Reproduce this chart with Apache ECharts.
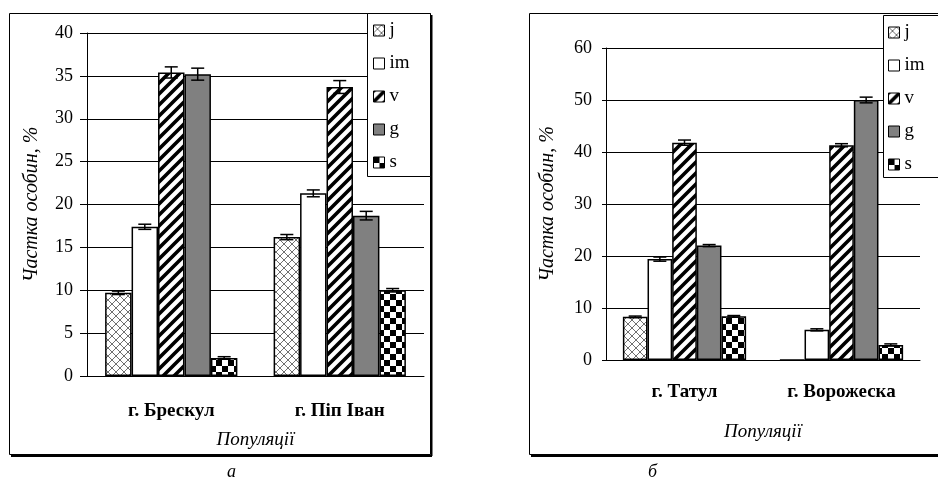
<!DOCTYPE html>
<html><head><meta charset="utf-8">
<script src="https://cdn.jsdelivr.net/npm/echarts@6/dist/echarts.min.js"></script>
<style>html,body{margin:0;padding:0;background:#fff}#c{width:938px;height:489px}</style>
</head><body><div id="c"></div>
<script>
// ---- data ----
const seriesNames = ['j', 'im', 'v', 'g', 's'];
const catsA = ['г. Брескул', 'г. Піп Іван'];
const catsB = ['г. Татул', 'г. Ворожеска'];
const yTicksA = [0, 40, 5];
const yTicksB = [0, 60, 10];

const jA = [9.7, 16.2];   const jAErr = [0.2, 0.3];
const imA = [17.4, 21.3]; const imAErr = [0.3, 0.4];
const vA = [35.4, 33.7];  const vAErr = [0.65, 0.75];
const gA = [35.2, 18.7];  const gAErr = [0.7, 0.5];
const sA = [2.1, 10.0];   const sAErr = [0.15, 0.2];

const jB = [8.3, 0];      const jBErr = [0.15, 0];
const imB = [19.4, 5.8];  const imBErr = [0.4, 0.2];
const vB = [41.8, 41.3];  const vBErr = [0.5, 0.3];
const gB = [22.0, 50.0];  const gBErr = [0.2, 0.55];
const sB = [8.4, 2.9];    const sBErr = [0.15, 0.2];

const valuesA = [jA, imA, vA, gA, sA];
const errorsA = [jAErr, imAErr, vAErr, gAErr, sAErr];
const valuesB = [jB, imB, vB, gB, sB];
const errorsB = [jBErr, imBErr, vBErr, gBErr, sBErr];

// ---- patterns ----
function tile(size, draw) {
  const c = document.createElement('canvas');
  c.width = size; c.height = size;
  const ctx = c.getContext('2d');
  ctx.fillStyle = '#fff'; ctx.fillRect(0, 0, size, size);
  draw(ctx, size);
  return { image: c, repeat: 'repeat' };
}
const crossPat = tile(8, (ctx, s) => {
  ctx.strokeStyle = '#707070'; ctx.lineWidth = 1;
  ctx.beginPath(); ctx.moveTo(0, 0); ctx.lineTo(s, s); ctx.moveTo(0, s); ctx.lineTo(s, 0); ctx.stroke();
});
const stripePat = tile(11, (ctx, s) => {
  ctx.strokeStyle = '#000'; ctx.lineWidth = 3.6; ctx.lineCap = 'square';
  ctx.beginPath();
  ctx.moveTo(-2, s + 2); ctx.lineTo(s + 2, -2);
  ctx.moveTo(-3, 3); ctx.lineTo(3, -3);
  ctx.moveTo(s - 3, s + 3); ctx.lineTo(s + 3, s - 3);
  ctx.stroke();
});
const checkPat = tile(12, (ctx, s) => {
  ctx.fillStyle = '#000'; ctx.fillRect(0, 0, 6, 6); ctx.fillRect(6, 6, 6, 6);
});
const fills = [crossPat, '#fff', stripePat, '#808080', checkPat];

const FF = '"Liberation Serif", "Times New Roman", serif';
const GAP = 0.215;

function errRender(i) {
  return function (params, api) {
    const k = api.value(0), v = api.value(1), e = api.value(2);
    if (!e) return null;
    const band = api.size([1, 0])[0];
    const bw = band * (1 - GAP) / 5;
    const c = api.coord([k, v]);
    const x = c[0] + (i - 2) * bw;
    const y1 = api.coord([k, v + e])[1], y2 = api.coord([k, v - e])[1];
    const hw = 6.5;
    const st = { stroke: '#000', lineWidth: 1.5 };
    return { type: 'group', children: [
      { type: 'line', shape: { x1: x, y1: y1, x2: x, y2: y2 }, style: st },
      { type: 'line', shape: { x1: x - hw, y1: y1, x2: x + hw, y2: y1 }, style: st },
      { type: 'line', shape: { x1: x - hw, y1: y2, x2: x + hw, y2: y2 }, style: st }
    ]};
  };
}

const series = [];
[[valuesA, errorsA, 0], [valuesB, errorsB, 1]].forEach(([vals, errs, gi]) => {
  seriesNames.forEach((n, i) => {
    series.push({
      type: 'bar', name: n, xAxisIndex: gi, yAxisIndex: gi,
      data: vals[i], barGap: '0%', barCategoryGap: (GAP * 100) + '%',
      itemStyle: { color: fills[i], borderColor: '#000', borderWidth: 1.5 },
      emphasis: { disabled: true }, silent: true
    });
  });
  seriesNames.forEach((n, i) => {
    series.push({
      type: 'custom', name: n + '_err', xAxisIndex: gi, yAxisIndex: gi, z: 3, silent: true,
      encode: { x: 0, y: 1 },
      data: vals[i].map((v, k) => [k, v, errs[i][k]]),
      renderItem: errRender(i)
    });
  });
});

function xAxis(gi, cats, margin, nameGap) {
  return {
    type: 'category', gridIndex: gi, data: cats,
    axisLine: { lineStyle: { color: '#000', width: 1 } },
    axisTick: { length: 6, lineStyle: { color: '#000' } },
    axisLabel: { margin: margin, fontFamily: FF, fontWeight: 'bold', fontSize: 19, color: '#000' },
    name: 'Популяції', nameLocation: 'middle', nameGap: nameGap,
    nameTextStyle: { fontFamily: FF, fontStyle: 'italic', fontSize: 19, color: '#000' }
  };
}
function yAxis(gi, t, tickLen, nameGap) {
  return {
    type: 'value', gridIndex: gi, min: t[0], max: t[1], interval: t[2],
    axisLine: { show: true, lineStyle: { color: '#000', width: 1 } },
    axisTick: { show: true, length: tickLen, lineStyle: { color: '#000' } },
    axisLabel: { margin: 14, fontFamily: FF, fontSize: 18, color: '#000' },
    splitLine: { show: true, lineStyle: { color: '#000', width: 1 } },
    name: 'Частка особин, %', nameLocation: 'middle', nameGap: nameGap, nameRotate: 90,
    nameTextStyle: { fontFamily: FF, fontStyle: 'italic', fontSize: 20, color: '#000' }
  };
}
function legend(left, top) {
  return {
    left: left, top: top, orient: 'vertical', icon: 'rect', itemWidth: 11, itemHeight: 11,
    padding: 5, itemGap: 14, selectedMode: false, data: seriesNames,
    textStyle: { fontFamily: FF, fontSize: 19, color: '#000', lineHeight: 19 },
    itemStyle: { borderColor: '#000', borderWidth: 1 }
  };
}

const chart = echarts.init(document.getElementById('c'), null, { renderer: 'canvas' });
chart.setOption({
  animation: false,
  backgroundColor: '#fff',
  grid: [
    { left: 87, top: 33, width: 337, height: 343 },
    { left: 606, top: 48, width: 314, height: 312 }
  ],
  xAxis: [xAxis(0, catsA, 25.5, 54.5), xAxis(1, catsB, 22.5, 62.5)],
  yAxis: [yAxis(0, yTicksA, 7, 45), yAxis(1, yTicksB, 4, 48)],
  legend: [legend(368, 16), legend(883, 18)],
  graphic: [
    { type: 'rect', z: -1, shape: { x: 9.5, y: 13.5, width: 421, height: 441 }, style: { fill: 'none', stroke: '#000', lineWidth: 1 } },
    { type: 'line', z: -1, shape: { x1: 11, y1: 456, x2: 432, y2: 456 }, style: { stroke: '#000', lineWidth: 2 } },
    { type: 'line', z: -1, shape: { x1: 431.5, y1: 15, x2: 431.5, y2: 456 }, style: { stroke: '#000', lineWidth: 2 } },
    { type: 'rect', z: -1, shape: { x: 529.5, y: 13.5, width: 430, height: 441 }, style: { fill: 'none', stroke: '#000', lineWidth: 1 } },
    { type: 'line', z: -1, shape: { x1: 531, y1: 456, x2: 940, y2: 456 }, style: { stroke: '#000', lineWidth: 2 } },
    { type: 'rect', z: 3, shape: { x: 367.5, y: 13.5, width: 63, height: 163 }, style: { fill: '#fff', stroke: '#000', lineWidth: 1 } },
    { type: 'rect', z: 3, shape: { x: 883.5, y: 15.5, width: 70, height: 162 }, style: { fill: '#fff', stroke: '#000', lineWidth: 1 } },
    { type: 'text', left: 227, top: 463, style: { text: 'а', font: 'italic 18px ' + FF, fill: '#000' } },
    { type: 'text', left: 648, top: 463, style: { text: 'б', font: 'italic 18px ' + FF, fill: '#000' } }
  ],
  series: series
});
</script>
</body></html>
